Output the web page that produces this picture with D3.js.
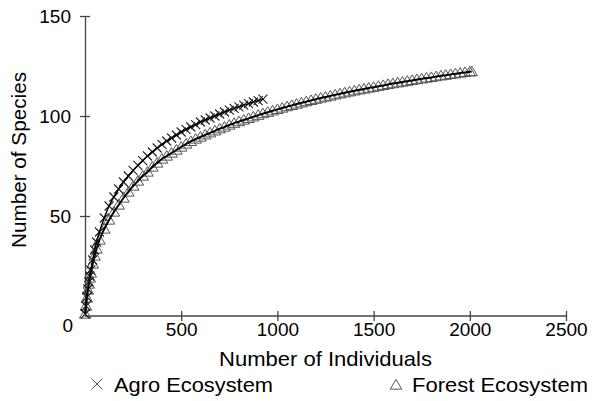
<!DOCTYPE html>
<html>
<head>
<meta charset="utf-8">
<script src="https://cdn.jsdelivr.net/npm/d3@7"></script>
<style>
  html, body { margin: 0; padding: 0; background: #fff; }
  svg { display: block; font-family: "Liberation Sans", Arial, sans-serif; }
</style>
</head>
<body>
<svg id="chart" width="598" height="401"></svg>
<script>
// ---- Data ----
const agroN = [1,5,10,15,20,25,30,40,50,60,75,100,125,150,175,200,225,250,275,300,325,350,375,400,425,450,475,500,525,550,575,600,625,650,675,700,725,750,775,800,825,850,875,900,925];
const agroS = [1,5,9.5,13.5,17,20,23,28,33,37,42,49,55,59.5,63.5,67,70,72.8,75.3,77.7,80,82,84,85.8,87.5,89,90.5,92,93.3,94.5,95.7,97,98,99,100,101,102,102.9,103.8,104.6,105.4,106.2,107,107.7,108.4];

const forestN = [1,5,10,15,20,25,30,40,50,60,75,100,125,150,175,200,225,250,275,300,325,350,375,400,425,450,475,500,525,550,575,600,625,650,675,700,725,750,775,800,825,850,875,900,925,950,975,1000,1025,1050,1075,1100,1125,1150,1175,1200,1225,1250,1275,1300,1325,1350,1375,1400,1425,1450,1475,1500,1525,1550,1575,1600,1625,1650,1675,1700,1725,1750,1775,1800,1825,1850,1875,1900,1925,1950,1975,2000,2010];
const forestS = [1,5,9,13,16,19,21.5,26,30,33.5,38,43.5,48,52,55.5,59,62,65,67.5,70,72,74.5,76.5,78.5,80,81.5,83,84.5,86,87.3,88.5,89.5,90.6,91.6,92.6,93.6,94.5,95.5,96.4,97.2,98,98.8,99.6,100.4,101.2,101.9,102.6,103.3,104,104.7,105.3,106,106.6,107.2,107.8,108.4,109,109.5,110,110.6,111.1,111.6,112.1,112.6,113.1,113.5,114,114.4,114.9,115.3,115.8,116.2,116.6,117,117.4,117.8,118.2,118.6,119,119.3,119.7,120.1,120.4,120.8,121.1,121.5,121.8,122.1,122.2];

const xTicks = [500, 1000, 1500, 2000, 2500];
const yTicks = [0, 50, 100, 150];
const legendLabels = ["Agro Ecosystem", "Forest Ecosystem"];
const xTitle = "Number of Individuals";
const yTitle = "Number of Species";

// ---- Layout ----
const svg = d3.select("#chart");
const x = d3.scaleLinear().domain([0, 2500]).range([85, 566]);
const y = d3.scaleLinear().domain([0, 150]).range([316, 16]);
const axisColor = "#444";
const fmt = d3.format("d");

// Axes
const xAxis = svg.append("g").attr("transform", `translate(0,${y(0)})`)
  .call(d3.axisBottom(x).tickValues(xTicks).tickFormat(fmt).tickSize(5).tickSizeOuter(0).tickPadding(8));
xAxis.select(".domain").attr("d", `M${x(0)},0H${x(2500)}`);
xAxis.selectAll(".tick line").attr("y1", -5).attr("y2", 5);
const yAxis = svg.append("g").attr("transform", `translate(${x(0)},0)`)
  .call(d3.axisLeft(y).tickValues(yTicks).tickFormat(fmt).tickSize(5).tickSizeOuter(0).tickPadding(9));
yAxis.selectAll(".tick").filter(d => d === 0).select("line").remove();
yAxis.selectAll(".tick line").attr("x1", -5).attr("x2", 5);
yAxis.selectAll(".tick").filter(d => d === 0).select("text").attr("dy", "0.8em").attr("x", -12);
[xAxis, yAxis].forEach(g => {
  g.selectAll(".domain").attr("stroke", axisColor).attr("stroke-width", 1.3);
  g.selectAll(".tick line").attr("stroke", axisColor).attr("stroke-width", 1.3);
  g.selectAll(".tick text").attr("font-size", 19).attr("fill", "#000")
    .attr("font-family", "Liberation Sans, Arial, sans-serif");
});
xAxis.selectAll(".tick text").attr("y", 7).attr("dy", "0.71em");

// Series
const agro = agroN.map((n, i) => ({n, s: agroS[i]}));
const forest = forestN.map((n, i) => ({n, s: forestS[i]}));
const line = d3.line().x(d => x(d.n)).y(d => y(d.s)).curve(d3.curveMonotoneX);

const crossPath = r => `M${-r},${-r}L${r},${r}M${-r},${r}L${r},${-r}`;
const triPath = r => `M0,${-r}L${r * 1.05},${r * 0.75}L${-r * 1.05},${r * 0.75}Z`;

// Forest markers (triangles)
svg.append("g").selectAll("path").data(forest).join("path")
  .attr("transform", d => `translate(${x(d.n)},${y(d.s)})`)
  .attr("d", triPath(5.5))
  .attr("fill", "none").attr("stroke", "#555").attr("stroke-width", 1);
svg.append("path").datum(forest).attr("d", line)
  .attr("fill", "none").attr("stroke", "#000").attr("stroke-width", 2);

// Agro markers (crosses)
svg.append("g").selectAll("path").data(agro).join("path")
  .attr("transform", d => `translate(${x(d.n)},${y(d.s)})`)
  .attr("d", crossPath(4.5))
  .attr("fill", "none").attr("stroke", "#222").attr("stroke-width", 1.1);
svg.append("path").datum(agro).attr("d", line)
  .attr("fill", "none").attr("stroke", "#000").attr("stroke-width", 1.5);

// Titles
svg.append("text").attr("x", 219).attr("y", 366)
  .attr("font-size", 21).attr("textLength", 213).attr("lengthAdjust", "spacingAndGlyphs")
  .text(xTitle);
svg.append("text").attr("transform", "translate(26,248) rotate(-90)")
  .attr("font-size", 21).attr("textLength", 176).attr("lengthAdjust", "spacingAndGlyphs")
  .text(yTitle);

// Legend
const leg = svg.append("g");
leg.append("path").attr("transform", "translate(97,384)").attr("d", crossPath(5.5))
  .attr("fill", "none").attr("stroke", "#555").attr("stroke-width", 1);
leg.append("text").attr("x", 114).attr("y", 392).attr("font-size", 21)
  .attr("textLength", 159).attr("lengthAdjust", "spacingAndGlyphs").text(legendLabels[0]);
leg.append("path").attr("transform", "translate(396,385)").attr("d", triPath(5.5))
  .attr("fill", "none").attr("stroke", "#555").attr("stroke-width", 1);
leg.append("text").attr("x", 412).attr("y", 392).attr("font-size", 21)
  .attr("textLength", 176).attr("lengthAdjust", "spacingAndGlyphs").text(legendLabels[1]);
</script>
</body>
</html>
